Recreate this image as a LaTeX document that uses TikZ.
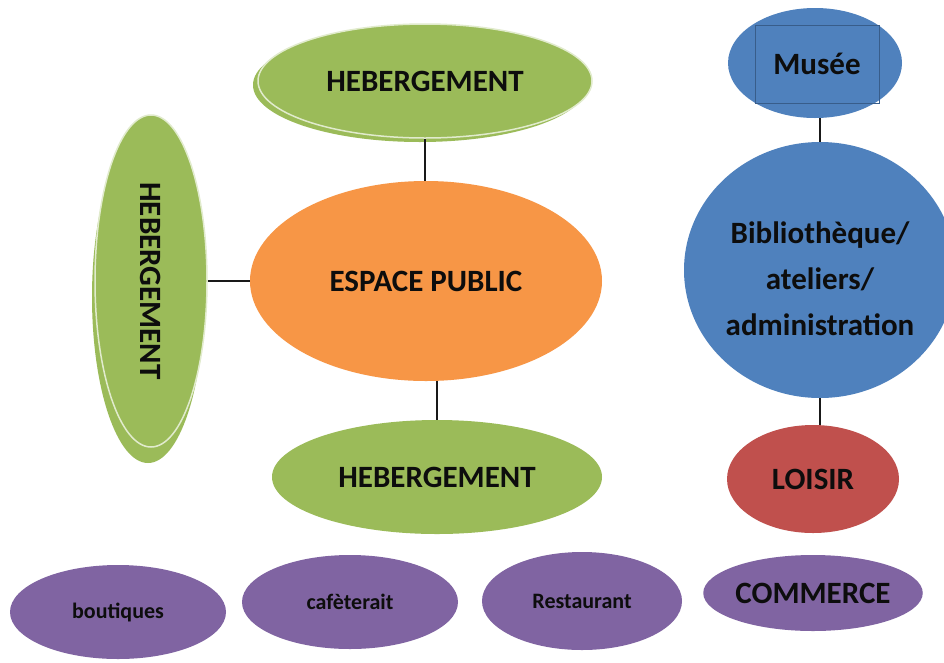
\documentclass[tikz,border=0pt]{standalone}
\usepackage{fontspec}
\setmainfont{Carlito}
\usetikzlibrary{shapes.geometric,calc}
\definecolor{cgreen}{HTML}{9BBB59}
\definecolor{corange}{HTML}{F79646}
\definecolor{cblue}{HTML}{4F81BD}
\definecolor{cblueline}{HTML}{385D8A}
\definecolor{cred}{HTML}{C0504D}
\definecolor{cpurple}{HTML}{8064A2}
\definecolor{ctext}{HTML}{0D0D0D}
\tikzset{
  blob/.style={ellipse, inner sep=0pt, text=ctext, font=\fontsize{31}{37}\selectfont\bfseries},
  small/.style={font=\fontsize{22}{26}\selectfont\bfseries},
  greenfront/.style={blob, fill=cgreen, draw=white!70!cgreen, line width=1.5pt},
  greenback/.style={ellipse, inner sep=0pt, fill=cgreen},
  link/.style={draw=black!90, line width=2.4pt},
}
\begin{document}
\begin{tikzpicture}[x=1pt,y=-1pt]
\fill[white] (0,0) rectangle (944,662);
\useasboundingbox (0,0) rectangle (944,662);
\clip (0,0) rectangle (944,662);

% top hebergement with shadow
\node[greenback, minimum width=334pt, minimum height=114pt] (hebTopBack) at (420,85) {};
\node[greenfront, minimum width=334pt, minimum height=114pt] (hebTop) at (425,81) {HEBERGEMENT};

% left hebergement (vertical) with shadow
\node[greenback, minimum width=112pt, minimum height=332pt] (hebLeftBack) at (148,297) {};
\node[greenfront, minimum width=112pt, minimum height=332pt] (hebLeft) at (151,281) {};
\node[blob, rotate=-90] (hebLeftText) at (151,281) {HEBERGEMENT};

% central
\node[blob, fill=corange, minimum width=352pt, minimum height=200pt] (esp) at (426,281) {ESPACE PUBLIC};

% bottom hebergement
\node[blob, fill=cgreen, minimum width=330pt, minimum height=114pt] (hebBot) at (437,477) {HEBERGEMENT};

% right column
\node[blob, fill=cblue, minimum width=174pt, minimum height=110pt] (musee) at (815,63) {};
\node[draw=cblueline, line width=0.8pt, minimum width=124pt, minimum height=78pt, inner sep=0pt, text=ctext, font=\fontsize{31}{37}\selectfont\bfseries] (museeBox) at (817,64) {Musée};
\node[blob, fill=cblue, minimum width=272pt, minimum height=256pt] (biblio) at (820,270) {};
\node[blob, align=center, font=\fontsize{31}{46}\selectfont\bfseries] (biblioText) at (820,279) {Bibliothèque/\\ateliers/\\administration};
\node[blob, fill=cred, minimum width=172pt, minimum height=108pt] (loisir) at (813,479) {LOISIR};

% bottom row
\node[blob, small, fill=cpurple, minimum width=216pt, minimum height=94pt] (boutiques) at (118,612) {boutiques};
\node[blob, small, fill=cpurple, minimum width=216pt, minimum height=94pt] (cafe) at (350,602) {cafèterait};
\node[blob, small, fill=cpurple, minimum width=200pt, minimum height=98pt] (resto) at (582,601) {Restaurant};
\node[blob, fill=cpurple, minimum width=216pt, minimum height=76pt] (commerce) at (813,593) {COMMERCE};

% connectors
\draw[link] (hebTop.south) -- (hebTop.south |- esp.north);
\draw[link] (hebLeft.east) -- (esp.west);
\draw[link] (hebBot.north) -- (hebBot.north |- esp.south);
\draw[link] (biblio.north) -- (biblio.north |- musee.south);
\draw[link] (biblio.south) -- (biblio.south |- loisir.north);
\end{tikzpicture}
\end{document}
